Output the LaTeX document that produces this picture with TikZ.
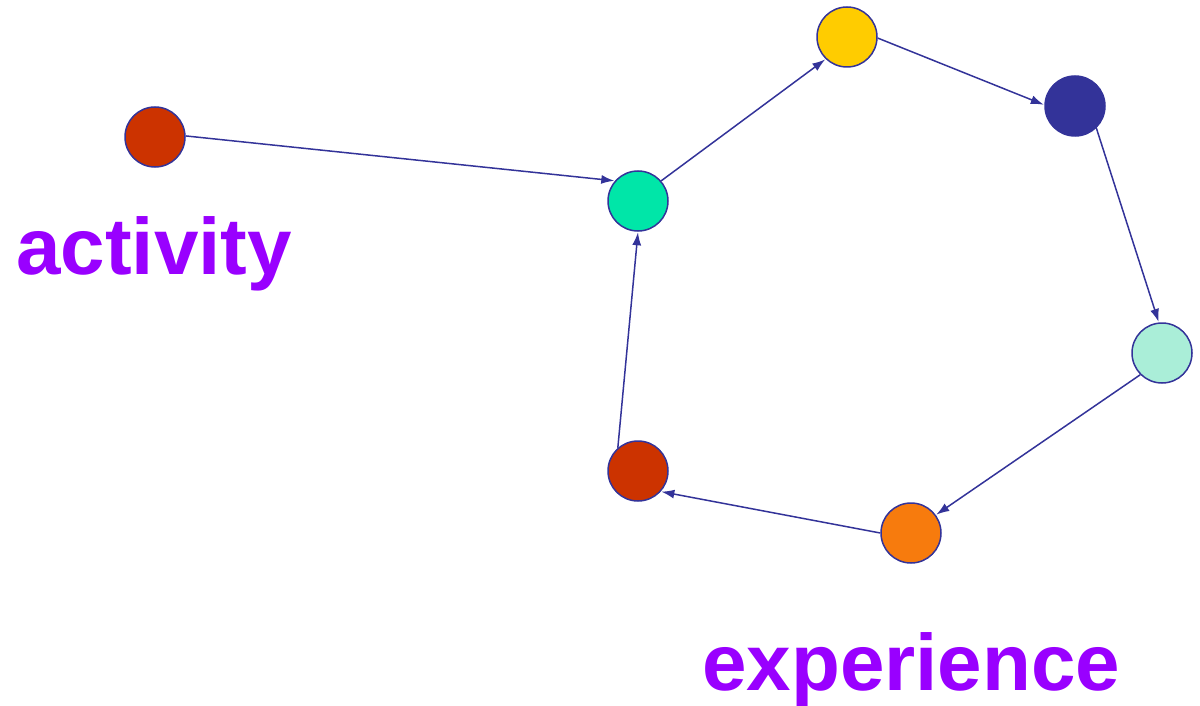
\documentclass[tikz,border=0pt]{standalone}
\usepackage{fontspec}
\setmainfont{Liberation Sans}
\usetikzlibrary{arrows.meta}
\definecolor{edgec}{HTML}{333399}
\definecolor{lbl}{HTML}{9900FF}
\definecolor{cred}{HTML}{CC3300}
\definecolor{cgreen}{HTML}{00E6A8}
\definecolor{cyellow}{HTML}{FFCC00}
\definecolor{cnavy}{HTML}{333399}
\definecolor{clight}{HTML}{AAEED8}
\definecolor{corange}{HTML}{F77B0D}
\tikzset{
  dot/.style={circle, draw=edgec, line width=1.5pt, minimum size=60pt, inner sep=0pt},
  link/.style={draw=edgec, line width=1.5pt, -{Latex[length=13pt,width=9pt]}, shorten >=0.5pt},
  lab/.style={text=lbl, font=\bfseries\fontsize{80}{80}\selectfont, inner sep=0pt, anchor=base west}
}
\begin{document}
\begin{tikzpicture}[x=1pt,y=-1pt]
\useasboundingbox (0,0) rectangle (1200,706);
\node[dot, fill=cred] (a) at (155,137) {};
\node[dot, fill=cgreen] (b) at (638,201) {};
\node[dot, fill=cyellow] (c) at (847,37) {};
\node[dot, fill=cnavy] (d) at (1075,106) {};
\node[dot, fill=clight] (e) at (1162,353) {};
\node[dot, fill=corange] (f) at (911,533) {};
\node[dot, fill=cred] (g) at (638,471) {};
\draw[link] (a.2) -- (b.139);
\draw[link] (b.41) -- (c.226);
\draw[link] (c.-2) -- (d.178);
\draw[link] (d.-46) -- (e.96);
\draw[link] (e.225) -- (f.36);
\draw[link] (f.180) -- (g.-42);
\draw[link] (g.131) -- (b.-90);
\node[lab] (t1) at (16,274) {activity};
\node[lab] (t2) at (702,690) {experience};
\end{tikzpicture}
\end{document}
